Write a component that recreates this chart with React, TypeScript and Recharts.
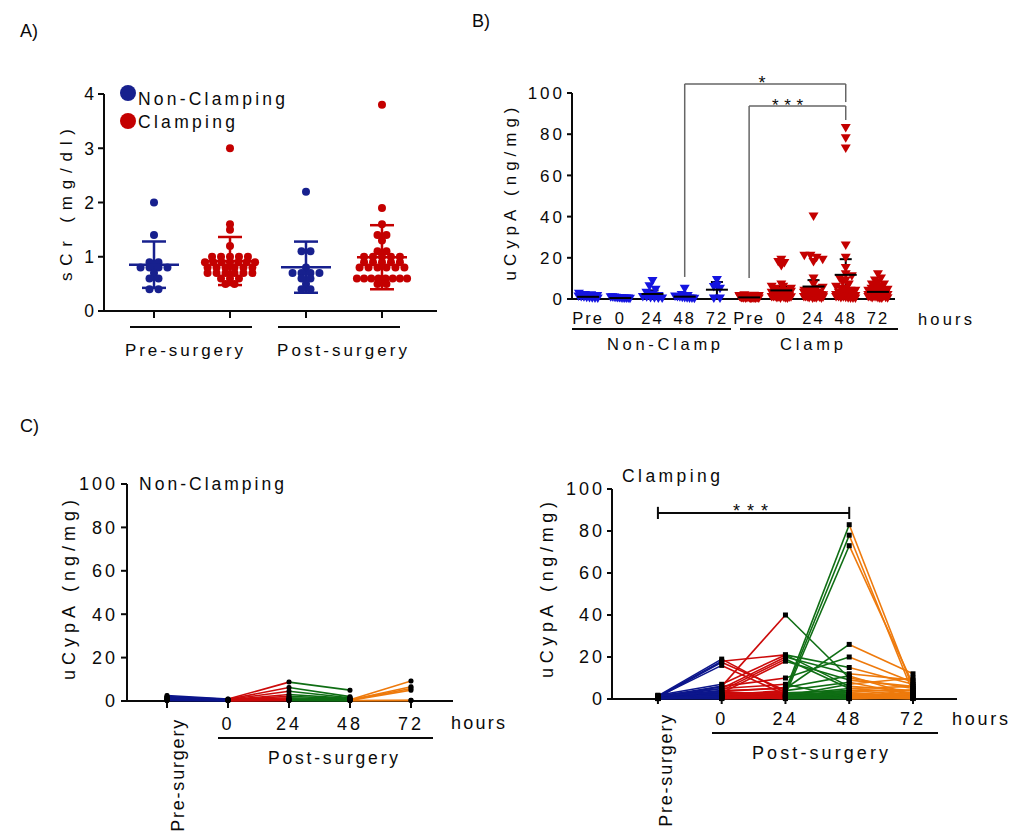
import React from "react"
import { ScatterChart, Scatter, XAxis, YAxis, ErrorBar, ReferenceLine } from "recharts"

const FONT = '"Liberation Sans", Arial, sans-serif'
const PAGE_W = 1020
const PAGE_H = 832
const Y_W = 50
const X_H = 30
const INK = "#0a0a0a"

// A) serum creatinine (mg/dl), one value per patient
const sCrPreNonClamp = [2.0, 1.4, 0.9, 0.9, 0.8, 0.8, 0.8, 0.8, 0.7, 0.6, 0.6, 0.4, 0.4]
const sCrPreClamp = [
  3.0, 1.6, 1.5, 1.2, 1.0, 1.0, 1.0, 1.0, 1.0, 0.9, 0.9, 0.9, 0.9, 0.9, 0.9, 0.9, 0.8, 0.8, 0.8, 0.8, 0.8,
  0.8, 0.7, 0.7, 0.7, 0.7, 0.7, 0.7, 0.6, 0.6, 0.6, 0.5, 0.5,
]
const sCrPostNonClamp = [2.2, 1.1, 1.1, 0.8, 0.7, 0.7, 0.7, 0.7, 0.6, 0.6, 0.5, 0.4, 0.4]
const sCrPostClamp = [
  3.8, 1.9, 1.6, 1.4, 1.4, 1.3, 1.1, 1.1, 1.0, 1.0, 1.0, 1.0, 1.0, 0.9, 0.9, 0.9, 0.9, 0.9, 0.8, 0.8, 0.8,
  0.8, 0.8, 0.8, 0.6, 0.6, 0.6, 0.6, 0.6, 0.6, 0.6, 0.6, 0.5, 0.5,
]
const sCrTicks = [0, 1, 2, 3, 4]

// B) and C) urinary CypA (ng/mg); index = patient, null = no sample
const ncPre = [2.5, 2.0, 1.8, 1.5, 1.2, 1.0, 0.8, 0.6, 0.5, 0.4, 0.3, 0.2]
const nc0 = [0.9, 0.8, 0.7, 0.6, 0.5, 0.5, 0.4, 0.3, 0.3, 0.2, 0.2, 0.1]
const nc24 = [8.7, 6.2, 4.5, 3.0, 2.2, 1.5, 1.0, 0.8, 0.5, 0.4, 0.3, 0.2]
const nc48 = [5.0, 2.0, 1.5, 1.2, 1.0, 0.8, 0.6, 0.5, 0.4, 0.3, 0.2, 0.1]
const nc72 = [null, null, null, null, null, null, 9.2, 6.6, 5.8, 5.0, 0.3, 0.2]

const clPre = [
  1.5, 1.2, 0.8, 1.0, 0.5, 1.8, 0.6, 1.0, 0.4, 1.2, 0.7, 0.3, 0.9, 0.5, 1.1, 0.8, 0.6, 0.4, 0.3, 0.5, 1.3,
  0.2, 0.6, 0.9, 0.3, 0.7, 1.6, 0.2, 0.4, 1.0, 0.5, 0.8, 0.3, 1.4,
]
const cl0 = [
  19, 18, 17.5, 16, 6, 7, 5, 4, 3, 6, 2, 3, 1, 4, 3, 2, 1.5, 1, 2.5, 1, 0.5, 0.8, 0.3, 1.2, 0.6, 0.4, 5, 0.2,
  1.8, 0.7, 2.2, 0.9, 1.4, 3.5,
]
const cl24 = [
  3, 21, 4, 2, 40, 21, 20, 19, 18, 10, 4, 3, 2, 5, 1.5, 2, 3, 1, 2.5, 1, 0.8, 0.5, 1.2, 0.3, 2, 0.6, 7, 0.4,
  1.0, 0.7, 1.8, 0.2, 0.9, 5.5,
]
const cl48 = [
  2, 6, 8, 3, 10, 15, 12, 5, 9, 20, 83, 78, 73, 26, 7, 5, 4, 4, 3, 3, 2, 2, 1.5, 1.5, 1, 1, 0.5, 0.8, 0.6,
  0.4, 0.3, 0.2, 0.2, 11,
]
const cl72 = [
  1, 4, 2, 1.5, 5, 7, 9, 3, 6, 8, 5, 3, 7, 12, 10, 6, 2, 4, 1, 0.5, 2, 1, 0.8, 0.5, 3, 1.5, 0.3, 0.2, 2.5,
  1.2, 0.6, 4.5, 0.4, 2,
]

const timeLabels = ["Pre", "0", "24", "48", "72"]
const bLabels = [...timeLabels, ...timeLabels]
const cTickLabels = ["Pre-surgery", "0", "24", "48", "72"]
const uCypATicks = [0, 20, 40, 60, 80, 100]

const A_BLUE = "#17208e"
const A_RED = "#c40000"
const B_BLUE = "#1414e0"
const B_RED = "#c40000"
const segColors = ["#0c168c", "#cc0a0a", "#0f6e14", "#ee7a0c"]

// plot areas in page pixels
const plotA = { left: 104, top: 94, right: 437, bottom: 311 }
const plotB = { left: 572, top: 93, right: 895, bottom: 299 }
const plotCL = { left: 127, top: 484, right: 453, bottom: 701 }
const plotCR = { left: 612, top: 489, right: 957, bottom: 699 }

const marginFor = (p: { left: number; top: number; right: number; bottom: number }) => ({
  top: p.top,
  left: p.left - Y_W,
  right: PAGE_W - p.right,
  bottom: PAGE_H - p.bottom - X_H,
})

const present = (a: (number | null)[]) => a.filter((v): v is number => v !== null)
const mean = (a: number[]) => a.reduce((s, v) => s + v, 0) / a.length
const sd = (a: number[]) => {
  const m = mean(a)
  return Math.sqrt(a.reduce((s, v) => s + (v - m) ** 2, 0) / (a.length - 1))
}
const tCrit = (df: number) => {
  const z = 1.96
  return z + (z ** 3 + z) / (4 * df) + (5 * z ** 5 + 16 * z ** 3 + 3 * z) / (96 * df * df)
}
const ci95 = (a: number[]) => (tCrit(a.length - 1) * sd(a)) / Math.sqrt(a.length)

// simple beeswarm: values in the same bin are spread sideways around the group centre
function swarmOffsets(values: number[], bin: number, step: number, maxHalf: number) {
  const bins: Record<number, number[]> = {}
  values.forEach((v, i) => {
    const b = Math.round(v / bin)
    ;(bins[b] = bins[b] || []).push(i)
  })
  const out = values.map(() => 0)
  Object.values(bins).forEach((idx) => {
    const n = idx.length
    const s = n > 1 ? Math.min(step, (2 * maxHalf) / (n - 1)) : 0
    idx.forEach((id, k) => {
      out[id] = (k - (n - 1) / 2) * s
    })
  })
  return out
}

const noDot = () => <g />
const emptyTick = () => <g />

const dot = (color: string, r: number) => (p: any) => <circle cx={p.cx} cy={p.cy} r={r} fill={color} />
const downTriangle = (color: string) => (p: any) => (
  <polygon points={`${p.cx - 5},${p.cy - 4} ${p.cx + 5},${p.cy - 4} ${p.cx},${p.cy + 4.5}`} fill={color} />
)
const square = (size: number, rx: number) => (p: any) => (
  <rect x={p.cx - size / 2} y={p.cy - size / 2} width={size} height={size} rx={rx} fill="#000" />
)
const meanLine = (half: number, color: string, sw: number) => (p: any) => (
  <line x1={p.cx - half} x2={p.cx + half} y1={p.cy} y2={p.cy} stroke={color} strokeWidth={sw} />
)

const yTick = (fs: number, ls: number) => (p: any) => (
  <text x={p.x} y={p.y} dy="0.36em" textAnchor="end" fontSize={fs} letterSpacing={ls} fontFamily={FONT} fill={INK}>
    {p.payload.value}
  </text>
)

const axisLine = { stroke: INK, strokeWidth: 2 }

function PanelA() {
  const groups = [sCrPreNonClamp, sCrPreClamp, sCrPostNonClamp, sCrPostClamp]
  const colors = [A_BLUE, A_RED, A_BLUE, A_RED]
  return (
    <div style={{ position: "absolute", left: 0, top: 0 }}>
      <ScatterChart width={PAGE_W} height={PAGE_H} margin={marginFor(plotA)}>
        <XAxis
          type="number"
          dataKey="x"
          domain={[-0.658, 3.724]}
          ticks={[0, 1, 2, 3]}
          interval={0}
          height={X_H}
          tickSize={7}
          tickLine={axisLine}
          axisLine={axisLine}
          tick={emptyTick}
        />
        <YAxis
          type="number"
          dataKey="y"
          domain={[0, 4]}
          ticks={sCrTicks}
          interval={0}
          width={Y_W}
          tickSize={6}
          tickMargin={4}
          tickLine={axisLine}
          axisLine={axisLine}
          tick={yTick(17.5, 0)}
        />
        {groups.map((vals, g) => {
          const off = swarmOffsets(vals, 0.1, 0.118, 0.33)
          return (
            <Scatter
              key={`p${g}`}
              data={vals.map((v, i) => ({ x: g + off[i], y: v }))}
              shape={dot(colors[g], 4)}
              isAnimationActive={false}
            />
          )
        })}
        {groups.map((vals, g) => (
          <Scatter
            key={`m${g}`}
            data={[{ x: g, y: mean(vals), err: sd(vals) }]}
            shape={meanLine(25, colors[g], 2.5)}
            isAnimationActive={false}
          >
            <ErrorBar dataKey="err" direction="y" width={12} stroke={colors[g]} strokeWidth={2.5} isAnimationActive={false} />
          </Scatter>
        ))}
      </ScatterChart>
    </div>
  )
}

const bTick = (p: any) => (
  <text x={p.x} y={p.y} dy={13} textAnchor="middle" fontSize={16.5} letterSpacing={2} fontFamily={FONT} fill={INK}>
    {bLabels[p.payload.value]}
  </text>
)

// significance brackets (data units)
const starBracket = { left: 3, right: 8, top: 104.4, leftFoot: 10.7, rightFoot: 95.6 }
const tripleBracket = { left: 5, right: 8, top: 93.7, leftFoot: 10.2, rightFoot: 86.9 }

function Bracket(b: typeof starBracket, key: string) {
  const st = { stroke: "#666", strokeWidth: 1.5, ifOverflow: "visible" as const }
  return [
    <ReferenceLine key={key + "l"} segment={[{ x: b.left, y: b.leftFoot }, { x: b.left, y: b.top }]} {...st} />,
    <ReferenceLine key={key + "t"} segment={[{ x: b.left, y: b.top }, { x: b.right, y: b.top }]} {...st} />,
    <ReferenceLine key={key + "r"} segment={[{ x: b.right, y: b.top }, { x: b.right, y: b.rightFoot }]} {...st} />,
  ]
}

function PanelB() {
  const groups = [ncPre, nc0, nc24, nc48, nc72, clPre, cl0, cl24, cl48, cl72].map(present)
  const means = groups.map((vals, k) => ({ x: k, y: mean(vals), err: ci95(vals) }))
  return (
    <div style={{ position: "absolute", left: 0, top: 0 }}>
      <ScatterChart width={PAGE_W} height={PAGE_H} margin={marginFor(plotB)}>
        <XAxis
          type="number"
          dataKey="x"
          domain={[-0.5, 9.53]}
          ticks={bLabels.map((_, i) => i)}
          interval={0}
          height={X_H}
          tickSize={10}
          tickMargin={2}
          tickLine={false}
          axisLine={axisLine}
          tick={bTick}
        />
        <YAxis
          type="number"
          dataKey="y"
          domain={[0, 100]}
          ticks={uCypATicks}
          interval={0}
          width={Y_W}
          tickSize={5}
          tickMargin={2}
          tickLine={axisLine}
          axisLine={axisLine}
          tick={yTick(17, 3)}
        />
        {groups.map((vals, k) => {
          const off = swarmOffsets(vals, 2.5, 0.19, 0.3)
          return (
            <Scatter
              key={`b${k}`}
              data={vals.map((v, i) => ({ x: k + off[i], y: v }))}
              shape={downTriangle(k < 5 ? B_BLUE : B_RED)}
              isAnimationActive={false}
            />
          )
        })}
        <Scatter data={means} shape={meanLine(11, "#000", 2)} isAnimationActive={false}>
          <ErrorBar dataKey="err" direction="y" width={6} stroke="#000" strokeWidth={2} isAnimationActive={false} />
        </Scatter>
        {Bracket(starBracket, "s")}
        {Bracket(tripleBracket, "t")}
      </ScatterChart>
    </div>
  )
}

const cXTick = (dy: number, preDx: number, preDy: number) => (p: any) => {
  const k = p.payload.value
  if (k === 0) {
    const bx = p.x + preDx
    const by = p.y + preDy
    return (
      <text
        x={bx}
        y={by}
        transform={`rotate(-90 ${bx} ${by})`}
        textAnchor="end"
        fontSize={18}
        letterSpacing={1.8}
        fontFamily={FONT}
        fill={INK}
      >
        {cTickLabels[0]}
      </text>
    )
  }
  return (
    <text x={p.x} y={p.y} dy={dy} textAnchor="middle" fontSize={18} letterSpacing={3} fontFamily={FONT} fill={INK}>
      {cTickLabels[k]}
    </text>
  )
}

type PanelCProps = {
  plot: { left: number; top: number; right: number; bottom: number }
  domain: [number, number]
  series: (number | null)[][]
  xTickSize: number
  yTickSize: number
  yTickMargin: number
  tickDy: number
  preDx: number
  preDy: number
  markerRx: number
  sigBar?: { from: number; to: number; y: number; cap: number }
}

function PanelC({ plot, domain, series, xTickSize, yTickSize, yTickMargin, tickDy, preDx, preDy, markerRx, sigBar }: PanelCProps) {
  const segs: React.ReactNode[] = []
  for (let s = 0; s < series.length - 1; s++) {
    series[s].forEach((v, i) => {
      const w = series[s + 1][i]
      if (v === null || w === null) return
      segs.push(
        <Scatter
          key={`s${s}-${i}`}
          data={[
            { x: s, y: v },
            { x: s + 1, y: w },
          ]}
          line={{ stroke: segColors[s], strokeWidth: 1.6 }}
          shape={noDot}
          isAnimationActive={false}
        />
      )
    })
  }
  const pts = series.flatMap((arr, s) => present(arr).map((v) => ({ x: s, y: v })))
  const barStyle = { stroke: INK, strokeWidth: 2, ifOverflow: "visible" as const }
  return (
    <div style={{ position: "absolute", left: 0, top: 0 }}>
      <ScatterChart width={PAGE_W} height={PAGE_H} margin={marginFor(plot)}>
        <XAxis
          type="number"
          dataKey="x"
          domain={domain}
          ticks={cTickLabels.map((_, i) => i)}
          interval={0}
          height={X_H}
          tickSize={xTickSize}
          tickMargin={4}
          tickLine={axisLine}
          axisLine={axisLine}
          tick={cXTick(tickDy, preDx, preDy)}
        />
        <YAxis
          type="number"
          dataKey="y"
          domain={[0, 100]}
          ticks={uCypATicks}
          interval={0}
          width={Y_W}
          tickSize={yTickSize}
          tickMargin={yTickMargin}
          tickLine={axisLine}
          axisLine={axisLine}
          tick={yTick(18, 3)}
        />
        {segs}
        <Scatter data={pts} shape={square(5, markerRx)} isAnimationActive={false} />
        {sigBar && (
          <ReferenceLine segment={[{ x: sigBar.from, y: sigBar.y }, { x: sigBar.to, y: sigBar.y }]} {...barStyle} />
        )}
        {sigBar && (
          <ReferenceLine
            segment={[{ x: sigBar.from, y: sigBar.y - sigBar.cap }, { x: sigBar.from, y: sigBar.y + sigBar.cap }]}
            {...barStyle}
          />
        )}
        {sigBar && (
          <ReferenceLine
            segment={[{ x: sigBar.to, y: sigBar.y - sigBar.cap }, { x: sigBar.to, y: sigBar.y + sigBar.cap }]}
            {...barStyle}
          />
        )}
      </ScatterChart>
    </div>
  )
}

type TProps = {
  x: number
  y: number
  children: React.ReactNode
  size?: number
  anchor?: "start" | "middle" | "end"
  len?: number
  rotate?: boolean
}

function T({ x, y, children, size = 18, anchor = "start", len, rotate }: TProps) {
  return (
    <text
      x={x}
      y={y}
      fontSize={size}
      fontFamily={FONT}
      fill={INK}
      textAnchor={anchor}
      textLength={len}
      lengthAdjust={len ? "spacing" : undefined}
      transform={rotate ? `rotate(-90 ${x} ${y})` : undefined}
    >
      {children}
    </text>
  )
}

function Annotations() {
  const line = { stroke: INK, strokeWidth: 2 }
  return (
    <svg width={PAGE_W} height={PAGE_H} style={{ position: "absolute", left: 0, top: 0, pointerEvents: "none" }}>
      {/* A */}
      <T x={20} y={37}>A)</T>
      <circle cx={128} cy={93} r={8} fill={A_BLUE} />
      <circle cx={128} cy={121} r={8} fill={A_RED} />
      <T x={138} y={105} size={17.5} len={147}>Non-Clamping</T>
      <T x={138} y={128} size={17.5} len={97}>Clamping</T>
      <line x1={130} x2={252} y1={327} y2={327} {...line} />
      <line x1={278} x2={400} y1={327} y2={327} {...line} />
      <T x={125} y={356} size={17} len={118}>Pre-surgery</T>
      <T x={277} y={356} size={17} len={130}>Post-surgery</T>
      <T x={72} y={205} size={17} anchor="middle" len={152} rotate>sCr (mg/dl)</T>

      {/* B */}
      <T x={472} y={27}>B)</T>
      <T x={762} y={89} size={18} anchor="middle">*</T>
      <T x={772} y={111} size={17} len={31}>***</T>
      <T x={918} y={325} size={16.5} len={54}>hours</T>
      <line x1={572} x2={731} y1={329} y2={329} {...line} />
      <line x1={740} x2={898} y1={329} y2={329} {...line} />
      <T x={607} y={350} size={16.5} len={113}>Non-Clamp</T>
      <T x={780} y={350} size={16.5} len={63}>Clamp</T>
      <T x={516} y={194} size={17} anchor="middle" len={173} rotate>uCypA (ng/mg)</T>

      {/* C */}
      <T x={20} y={432}>C)</T>
      <T x={139} y={490} size={17.5} len={145}>Non-Clamping</T>
      <T x={451} y={729} size={18} len={54}>hours</T>
      <line x1={218} x2={433} y1={738} y2={738} {...line} />
      <T x={268} y={764} size={17.5} len={130}>Post-surgery</T>
      <T x={75} y={590} size={18} anchor="middle" len={180} rotate>uCypA (ng/mg)</T>

      <T x={622} y={482} size={17.5} len={98}>Clamping</T>
      <T x={952} y={725} size={18} len={56}>hours</T>
      <line x1={712} x2={938} y1={733} y2={733} {...line} />
      <T x={752} y={759} size={18} len={136}>Post-surgery</T>
      <T x={553} y={590} size={18} anchor="middle" len={176} rotate>uCypA (ng/mg)</T>
      <T x={733} y={517} size={18} len={35}>***</T>
    </svg>
  )
}

export default function App() {
  return (
    <div
      style={{
        position: "absolute",
        left: 0,
        top: 0,
        width: PAGE_W,
        height: PAGE_H,
        background: "#fff",
        overflow: "hidden",
        fontFamily: FONT,
      }}
    >
      <PanelA />
      <PanelB />
      <PanelC
        plot={plotCL}
        domain={[-0.656, 4.689]}
        series={[ncPre, nc0, nc24, nc48, nc72]}
        xTickSize={7}
        yTickSize={6}
        yTickMargin={3}
        tickDy={18}
        preDx={17}
        preDy={6}
        markerRx={2}
      />
      <PanelC
        plot={plotCR}
        domain={[-0.72, 4.69]}
        series={[clPre, cl0, cl24, cl48, cl72]}
        xTickSize={5}
        yTickSize={5}
        yTickMargin={2}
        tickDy={17}
        preDx={14}
        preDy={5}
        markerRx={0}
        sigBar={{ from: 0, to: 3, y: 88.6, cap: 2.9 }}
      />
      <Annotations />
    </div>
  )
}
